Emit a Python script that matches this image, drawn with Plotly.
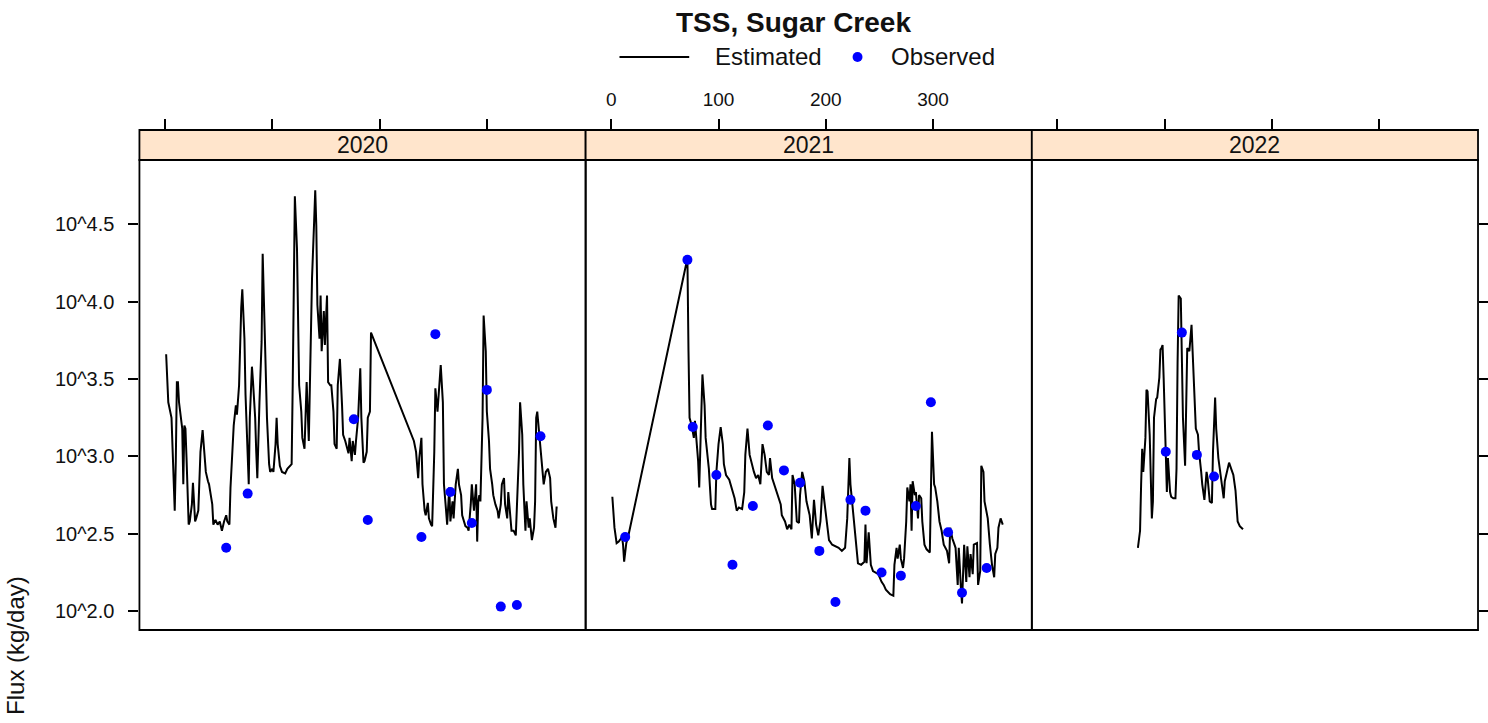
import plotly.graph_objects as go

# ---- data: (day of year, log10 flux in kg/day) ----
years = ["2020", "2021", "2022"]

est_2020 = [(1, 3.66), (2, 3.46), (3, 3.35), (6, 3.25), (7, 3.08), (9, 2.65), (10, 2.97), (11, 3.48), (12, 3.48),
            (13, 3.35), (16, 3.18), (17, 2.82), (18, 3.20), (19, 3.18), (20, 2.99), (22, 2.56), (23, 2.58), (25, 2.69),
            (26, 2.83), (27, 2.69), (28, 2.58), (29, 2.60), (31, 2.65), (33, 3.03), (35, 3.17), (36, 3.08), (38, 2.90),
            (40, 2.84), (41, 2.82), (44, 2.69), (45, 2.56), (47, 2.59), (49, 2.56), (51, 2.58), (53, 2.52), (55, 2.58),
            (57, 2.62), (58, 2.58), (60, 2.56), (61, 2.80), (63, 3.12), (64, 3.20), (66, 3.33), (67, 3.27), (69, 3.46),
            (70, 3.76), (71, 3.96), (72, 4.08), (74, 3.76), (75, 3.40), (77, 3.03), (78, 2.82), (79, 3.25), (81, 3.58),
            (82, 3.48), (84, 3.25), (85, 3.03), (86, 2.86), (88, 3.35), (90, 3.74), (91, 4.31), (92, 4.04), (94, 3.57),
            (95, 3.25), (97, 2.95), (98, 2.90), (100, 2.92), (101, 2.90), (103, 3.08), (104, 3.25), (105, 3.08),
            (107, 2.94), (109, 2.90), (112, 2.89), (114, 2.92), (117, 2.94), (118, 2.95), (119, 3.46), (120, 4.22),
            (121, 4.68), (123, 4.34), (124, 3.76), (125, 3.46), (127, 3.29), (128, 3.12), (130, 3.05), (131, 3.25),
            (132, 3.48), (134, 3.10), (135, 3.46), (136, 3.89), (137, 4.15), (139, 4.52), (140, 4.72), (141, 4.49),
            (142, 3.98), (144, 3.76), (145, 4.04), (146, 3.68), (148, 3.94), (149, 3.72), (151, 4.04), (152, 3.48),
            (154, 3.46), (155, 3.46), (157, 3.29), (158, 3.08), (160, 3.05), (161, 3.46), (163, 3.63), (165, 3.33),
            (166, 3.14), (168, 3.10), (171, 3.02), (172, 3.12), (174, 2.97), (175, 3.10), (177, 3.01), (178, 3.10),
            (180, 3.25), (182, 3.57), (183, 3.25), (185, 2.96), (186, 2.97), (188, 3.03), (189, 3.25), (191, 3.29),
            (192, 3.80), (232, 3.10), (234, 3.03), (236, 2.86), (237, 2.99), (239, 3.12), (240, 2.82), (242, 2.65),
            (243, 2.62), (245, 2.70), (246, 2.60), (248, 2.56), (249, 2.55), (251, 3.03), (252, 3.44), (254, 3.29),
            (256, 3.46), (257, 3.59), (259, 3.35), (260, 2.82), (262, 2.65), (263, 2.56), (265, 2.80), (266, 2.58),
            (268, 2.71), (269, 2.60), (271, 2.82), (273, 2.92), (274, 2.82), (276, 2.75), (277, 2.62), (279, 2.57),
            (280, 2.55), (282, 2.54), (283, 2.52), (285, 2.69), (286, 2.82), (288, 2.65), (290, 2.82), (291, 2.45),
            (292, 2.71), (293, 2.75), (294, 2.71), (296, 3.25), (297, 3.91), (299, 3.68), (300, 3.29), (302, 3.10),
            (303, 2.92), (305, 2.82), (306, 2.75), (308, 2.69), (310, 2.65), (311, 2.60), (313, 2.69), (314, 2.82),
            (316, 2.86), (317, 2.69), (319, 2.60), (320, 2.77), (322, 2.60), (323, 2.52), (325, 2.52), (327, 2.49),
            (330, 3.03), (331, 3.35), (333, 3.14), (334, 2.82), (336, 2.52), (337, 2.71), (339, 2.54), (340, 2.60),
            (342, 2.46), (344, 2.54), (345, 2.71), (346, 3.25), (347, 3.29), (349, 3.14), (351, 2.97), (353, 2.82),
            (355, 2.90), (357, 2.92), (359, 2.86), (360, 2.71), (362, 2.60), (364, 2.54), (365, 2.67), (366, 2.67)]

est_2021 = [(1, 2.74), (3, 2.54), (5, 2.44), (7, 2.45), (10, 2.48), (11, 2.43), (12, 2.32), (14, 2.44), (16, 2.49),
            (71, 4.28), (72, 3.68), (73, 3.25), (75, 3.20), (77, 3.12), (78, 3.23), (81, 2.97), (82, 2.80), (84, 3.25),
            (85, 3.53), (87, 3.33), (88, 3.12), (91, 2.92), (93, 2.69), (94, 2.66), (97, 2.66), (98, 2.90), (100, 3.08),
            (102, 3.19), (104, 3.08), (105, 2.95), (107, 2.88), (110, 2.85), (112, 2.80), (115, 2.73), (117, 2.65),
            (119, 2.67), (122, 2.66), (124, 2.77), (125, 3.01), (127, 3.18), (129, 3.01), (131, 2.95), (133, 2.90),
            (135, 2.86), (137, 2.88), (139, 2.82), (141, 3.08), (143, 3.01), (145, 2.90), (147, 2.88), (148, 2.99),
            (150, 2.86), (152, 2.82), (155, 2.75), (158, 2.69), (159, 2.62), (162, 2.58), (164, 2.53), (166, 2.56),
            (168, 2.53), (169, 2.88), (171, 2.82), (173, 2.58), (175, 2.57), (176, 2.75), (178, 2.90), (180, 2.84),
            (182, 2.71), (185, 2.62), (187, 2.47), (189, 2.72), (191, 2.56), (193, 2.49), (195, 2.58), (197, 2.81),
            (199, 2.69), (201, 2.58), (203, 2.46), (206, 2.43), (209, 2.42), (212, 2.41), (215, 2.39), (218, 2.41),
            (220, 2.60), (222, 2.99), (223, 2.82), (226, 2.62), (228, 2.47), (230, 2.31), (233, 2.30), (236, 2.32),
            (237, 2.56), (238, 2.31), (240, 2.51), (242, 2.30), (244, 2.26), (247, 2.25), (249, 2.24), (252, 2.19),
            (254, 2.17), (256, 2.14), (260, 2.11), (263, 2.10), (264, 2.30), (266, 2.41), (267, 2.34), (269, 2.43),
            (270, 2.34), (272, 2.28), (273, 2.34), (275, 2.58), (276, 2.80), (278, 2.71), (279, 2.82), (280, 2.52),
            (281, 2.84), (283, 2.75), (284, 2.77), (286, 2.60), (287, 2.75), (289, 2.73), (290, 2.58), (292, 2.43),
            (294, 2.40), (297, 2.38), (298, 2.82), (299, 3.16), (301, 2.82), (302, 2.80), (304, 2.71), (306, 2.58),
            (308, 2.52), (310, 2.43), (313, 2.39), (315, 2.31), (316, 2.54), (318, 2.47), (320, 2.43), (321, 2.41),
            (323, 2.17), (324, 2.41), (326, 2.15), (327, 2.05), (329, 2.43), (331, 2.19), (332, 2.42), (334, 2.22),
            (335, 2.37), (337, 2.24), (338, 2.43), (341, 2.44), (342, 2.17), (344, 2.26), (345, 2.94), (347, 2.90),
            (348, 2.71), (351, 2.60), (353, 2.43), (355, 2.30), (357, 2.22), (358, 2.37), (360, 2.41), (361, 2.54),
            (363, 2.60), (365, 2.56)]

est_2022 = [(75, 2.41), (77, 2.52), (78, 2.82), (79, 3.05), (80, 2.90), (81, 3.05), (82, 3.12), (83, 3.43), (84, 3.42),
            (86, 3.14), (87, 2.82), (88, 2.60), (89, 2.71), (90, 3.25), (92, 3.37), (93, 3.38), (95, 3.51), (96, 3.69),
            (97, 3.70), (98, 3.72), (99, 3.51), (101, 3.08), (102, 2.77), (103, 2.99), (105, 2.77), (106, 2.74),
            (108, 2.73), (110, 2.73), (111, 2.92), (112, 3.61), (113, 4.04), (115, 4.02), (116, 3.70), (117, 3.25),
            (119, 2.94), (120, 3.29), (121, 3.70), (123, 3.68), (125, 3.85), (126, 3.68), (128, 3.33), (129, 3.18),
            (131, 3.14), (132, 3.03), (134, 2.90), (135, 2.82), (137, 2.72), (139, 2.90), (140, 2.86), (142, 2.71),
            (144, 2.70), (145, 3.03), (147, 3.38), (148, 3.18), (150, 2.99), (152, 2.88), (153, 2.82), (155, 2.73),
            (156, 2.84), (158, 2.90), (160, 2.96), (162, 2.92), (164, 2.88), (166, 2.78), (168, 2.58), (170, 2.55),
            (173, 2.53)]

obs_2020 = [(57, 2.41), (77, 2.76), (176, 3.24), (189, 2.59), (239, 2.48), (252, 3.79), (266, 2.77), (286, 2.57),
            (300, 3.43), (313, 2.03), (328, 2.04), (350, 3.13)]
obs_2021 = [(13, 2.48), (71, 4.27), (76, 3.19), (98, 2.88), (113, 2.30), (132, 2.68), (146, 3.20), (161, 2.91),
            (176, 2.83), (194, 2.39), (209, 2.06), (223, 2.72), (237, 2.65), (252, 2.25), (270, 2.23), (284, 2.68),
            (298, 3.35), (314, 2.51), (327, 2.12), (350, 2.28)]
obs_2022 = [(101, 3.03), (116, 3.80), (130, 3.01), (146, 2.87)]

x_ticks = [0, 100, 200, 300]
y_tick_exp = [2.0, 2.5, 3.0, 3.5, 4.0, 4.5]
y_tick_text = ["10^2.0", "10^2.5", "10^3.0", "10^3.5", "10^4.0", "10^4.5"]

estimated = [est_2020, est_2021, est_2022]
observed = [obs_2020, obs_2021, obs_2022]

# ---- page geometry (pixels) ----
W, H = 1488, 723
FONT = "Liberation Sans, Arial, sans-serif"
STRIP_FILL = "#FFE5CC"
edges = [140, 588, 1036, 1484]
strip_top, plot_top, plot_bottom = 130, 160, 630


def fx(p):
    return p / W


def fy(p):
    return 1 - p / H


x_range = [-23.9, 392.1]
y_range = [1.879, 4.915]
y_dom = [fy(plot_bottom), fy(plot_top)]

fig = go.Figure()

for i, yr in enumerate(years):
    xa = "x" if i == 0 else f"x{i + 1}"
    ya = "y" if i == 0 else f"y{i + 1}"
    ed, el = zip(*estimated[i])
    od, ol = zip(*observed[i])
    fig.add_trace(go.Scatter(x=list(ed), y=[10 ** v for v in el], mode="lines",
                             line=dict(color="black", width=2), xaxis=xa, yaxis=ya,
                             name="Estimated", showlegend=False))
    fig.add_trace(go.Scatter(x=list(od), y=[10 ** v for v in ol], mode="markers",
                             marker=dict(color="#0000FF", size=10, line=dict(width=0)),
                             xaxis=xa, yaxis=ya, name="Observed", showlegend=False))

layout = dict(
    width=W, height=H,
    margin=dict(l=0, r=0, t=0, b=0),
    paper_bgcolor="white", plot_bgcolor="white",
    font=dict(family=FONT, color="black"),
    showlegend=False,
)

for i in range(3):
    sfx = "" if i == 0 else str(i + 1)
    layout[f"xaxis{sfx}"] = dict(
        domain=[fx(edges[i]), fx(edges[i + 1])], range=x_range,
        anchor="free", position=fy(strip_top), side="top",
        tickmode="array", tickvals=x_ticks, ticks="outside", ticklen=11,
        tickwidth=1.6, tickcolor="black", showticklabels=(i == 1),
        ticklabelstandoff=5,
        tickfont=dict(size=19, family=FONT, color="#111"),
        showgrid=False, zeroline=False, showline=False,
    )
    ydict = dict(
        domain=y_dom, type="log", range=y_range, anchor=f"x{sfx}",
        showgrid=False, zeroline=False, showline=False,
        tickmode="array", tickvals=[10 ** e for e in y_tick_exp], ticktext=y_tick_text,
        tickwidth=1.6, tickcolor="black", ticklen=10,
        tickfont=dict(size=20, family=FONT, color="#111"),
    )
    if i == 0:
        ydict.update(ticks="outside", showticklabels=True, ticklabelstandoff=10)
    elif i == 2:
        ydict.update(ticks="outside", side="right", showticklabels=False)
    else:
        ydict.update(ticks="", showticklabels=False)
    layout[f"yaxis{sfx}"] = ydict

shapes = []
annotations = []
for i, yr in enumerate(years):
    x0, x1 = fx(edges[i]), fx(edges[i + 1])
    # strip header
    shapes.append(dict(type="rect", xref="paper", yref="paper", x0=x0, x1=x1,
                       y0=fy(plot_top), y1=fy(strip_top), fillcolor=STRIP_FILL,
                       line=dict(color="black", width=1.8), layer="below"))
    # panel frame
    shapes.append(dict(type="rect", xref="paper", yref="paper", x0=x0, x1=x1,
                       y0=y_dom[0], y1=y_dom[1], line=dict(color="black", width=1.8)))
    annotations.append(dict(text=yr, xref="paper", yref="paper", x=(x0 + x1) / 2,
                            y=fy((strip_top + plot_top) / 2), showarrow=False,
                            xanchor="center", yanchor="middle",
                            font=dict(size=23, family=FONT, color="#111")))

# title
annotations.append(dict(text="<b>TSS, Sugar Creek</b>", xref="paper", yref="paper",
                        x=fx(797), y=fy(22), showarrow=False, xanchor="center", yanchor="middle",
                        font=dict(size=28, family=FONT, color="#111")))
# legend key
shapes.append(dict(type="line", xref="paper", yref="paper", x0=fx(622), x1=fx(692),
                   y0=fy(57), y1=fy(57), line=dict(color="black", width=1.8)))
annotations.append(dict(text="Estimated", xref="paper", yref="paper", x=fx(716), y=fy(57),
                        showarrow=False, xanchor="left", yanchor="middle",
                        font=dict(size=24, family=FONT, color="#111")))
shapes.append(dict(type="circle", xref="paper", yref="paper", x0=fx(856), x1=fx(866),
                   y0=fy(62), y1=fy(52), fillcolor="#0000FF", line=dict(width=0)))
annotations.append(dict(text="Observed", xref="paper", yref="paper", x=fx(893), y=fy(57),
                        showarrow=False, xanchor="left", yanchor="middle",
                        font=dict(size=24, family=FONT, color="#111")))
# y-axis title
annotations.append(dict(text="Flux (kg/day)", xref="paper", yref="paper", x=fx(15), y=fy(645),
                        showarrow=False, textangle=-90, xanchor="center", yanchor="middle",
                        font=dict(size=24, family=FONT, color="#111")))

layout["shapes"] = shapes
layout["annotations"] = annotations
fig.update_layout(**layout)

fig.write_html("out.html")
